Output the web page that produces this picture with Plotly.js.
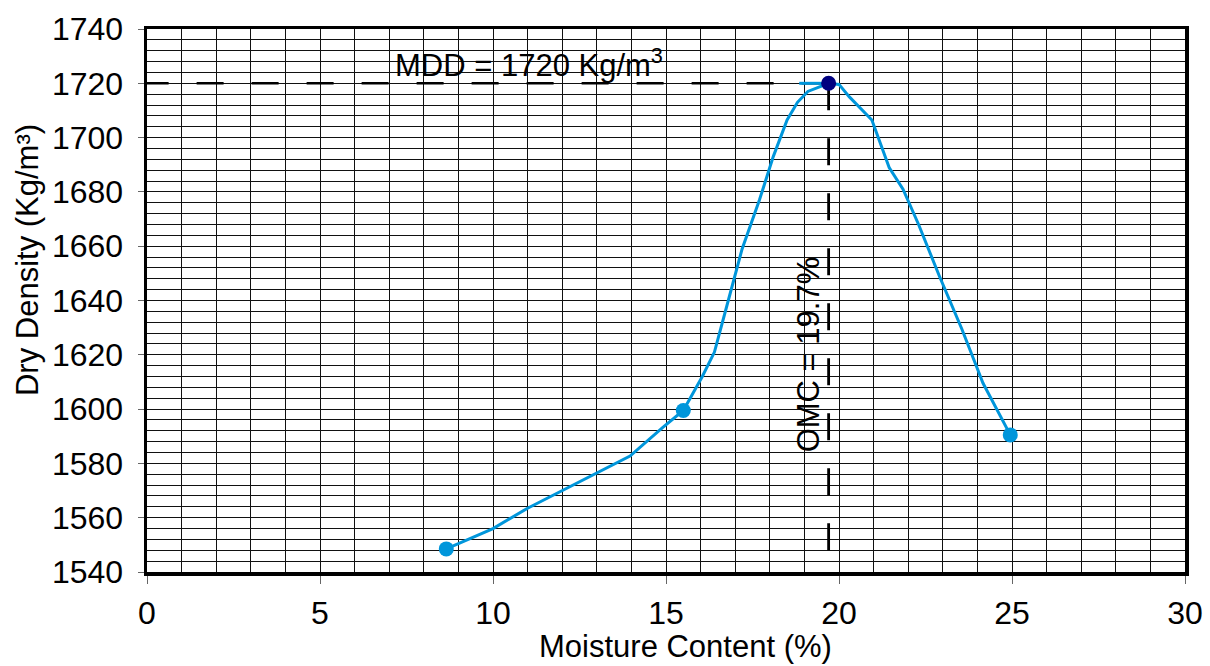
<!DOCTYPE html>
<html>
<head>
<meta charset="utf-8">
<script src="https://cdn.plot.ly/plotly-3.0.1.min.js"></script>
<style>html,body{margin:0;padding:0;background:#fff;}#chart{width:1210px;height:666px;}</style>
</head>
<body>
<div id="chart"></div>
<script>
// Measured test points
const moisture = [8.65, 15.5, 19.7, 24.95];
const dryDensity = [1548.5, 1599.5, 1720, 1590.5];
const pointColors = ["#0096DB", "#0096DB", "#000080", "#0096DB"];

// Fitted compaction curve
const curveX = [8.65, 10.0, 11.0, 12.0, 13.0, 13.96, 14.9, 15.5, 16.05, 16.4, 16.8, 17.2, 17.7, 18.1, 18.5, 18.8, 19.1, 19.7, 20.0, 20.3, 20.95, 21.45, 21.85, 22.3, 22.9, 23.55, 23.98, 24.16, 24.95];
const curveY = [1548.5, 1556, 1563.5, 1570, 1576.5, 1582.7, 1593.2, 1599.5, 1612, 1621, 1640, 1659, 1677, 1693, 1706.5, 1713, 1717, 1720, 1719.6, 1715, 1706.5, 1689, 1681, 1668, 1649, 1629.5, 1615.5, 1609.6, 1590.5];

// Short tangent segment at the peak
const peakSegX = [18.85, 19.7];
const peakSegY = [1720, 1720];

// Optimum values
const OMC = 19.7;
const MDD = 1720;
const yMin = 1540, yMax = 1740;
const xMin = 0, xMax = 30;

const mddLineX = [OMC, xMin];
const mddLineY = [MDD, MDD];
const omcLineX = [OMC, OMC];
const omcLineY = [MDD, yMin];

const xTicks = [0, 5, 10, 15, 20, 25, 30];
const yTicks = [1540, 1560, 1580, 1600, 1620, 1640, 1660, 1680, 1700, 1720, 1740];

const FONT = "Liberation Sans, Arial, sans-serif";
const BLUE = "#0096DB";

const traces = [
  {x: mddLineX, y: mddLineY, mode: "lines", line: {color: "#000", width: 2.6, dash: "27px,28px"}, hoverinfo: "skip", showlegend: false},
  {x: omcLineX, y: omcLineY, mode: "lines", line: {color: "#000", width: 2.8, dash: "27px,28px"}, hoverinfo: "skip", showlegend: false},
  {x: curveX, y: curveY, mode: "lines", line: {color: BLUE, width: 3}, showlegend: false},
  {x: peakSegX, y: peakSegY, mode: "lines", line: {color: BLUE, width: 3}, showlegend: false},
  {x: moisture, y: dryDensity, mode: "markers", marker: {color: pointColors, size: 15}, showlegend: false, cliponaxis: false}
];

const gridColor = "#111111";
const layout = {
  width: 1210, height: 666,
  margin: {l: 147, r: 25, t: 29, b: 94, pad: 0},
  paper_bgcolor: "#fff", plot_bgcolor: "#fff",
  font: {family: FONT, color: "#000", size: 31},
  showlegend: false,
  xaxis: {
    range: [xMin, xMax], tickvals: xTicks, ticktext: xTicks.map(String),
    showgrid: true, gridcolor: gridColor, gridwidth: 1,
    minor: {dtick: 1, tick0: 0, showgrid: true, gridcolor: gridColor, gridwidth: 1, ticks: ""},
    showline: true, linecolor: "#000", linewidth: 3.5, mirror: true,
    ticks: "outside", ticklen: 8, tickcolor: "#666", tickwidth: 1,
    ticklabelstandoff: 2,
    tickfont: {family: FONT, size: 32, color: "#000"},
    zeroline: false, fixedrange: true
  },
  yaxis: {
    range: [yMin, yMax], tickvals: yTicks, ticktext: yTicks.map(String),
    showgrid: true, gridcolor: gridColor, gridwidth: 1,
    minor: {dtick: 4, tick0: 1540, showgrid: true, gridcolor: gridColor, gridwidth: 1, ticks: ""},
    showline: true, linecolor: "#000", linewidth: 3.5, mirror: true,
    ticks: "outside", ticklen: 6, tickcolor: "#666", tickwidth: 1,
    ticklabelstandoff: 8,
    tickfont: {family: FONT, size: 32, color: "#000"},
    zeroline: false, fixedrange: true
  },
  annotations: [
    {text: "MDD = 1720 Kg/m<sup>3</sup>", xref: "x", yref: "y", x: 11.05, y: 1727.5, xanchor: "center", yanchor: "middle", showarrow: false, font: {family: FONT, size: 31, color: "#000"}},
    {text: "OMC = 19.7%", xref: "x", yref: "y", x: 19.12, y: 1620, xanchor: "center", yanchor: "middle", textangle: -90, showarrow: false, font: {family: FONT, size: 31, color: "#000"}},
    {text: "Moisture Content (%)", xref: "paper", yref: "paper", x: 0.519, y: -0.138, xanchor: "center", yanchor: "middle", showarrow: false, font: {family: FONT, size: 31, color: "#000"}},
    {text: "Dry Density (Kg/m³)", xref: "paper", yref: "paper", x: -0.1146, y: 0.5746, xanchor: "center", yanchor: "middle", textangle: -90, showarrow: false, font: {family: FONT, size: 31, color: "#000"}}
  ]
};

Plotly.newPlot("chart", traces, layout, {displayModeBar: false, staticPlot: true});
</script>
</body>
</html>
